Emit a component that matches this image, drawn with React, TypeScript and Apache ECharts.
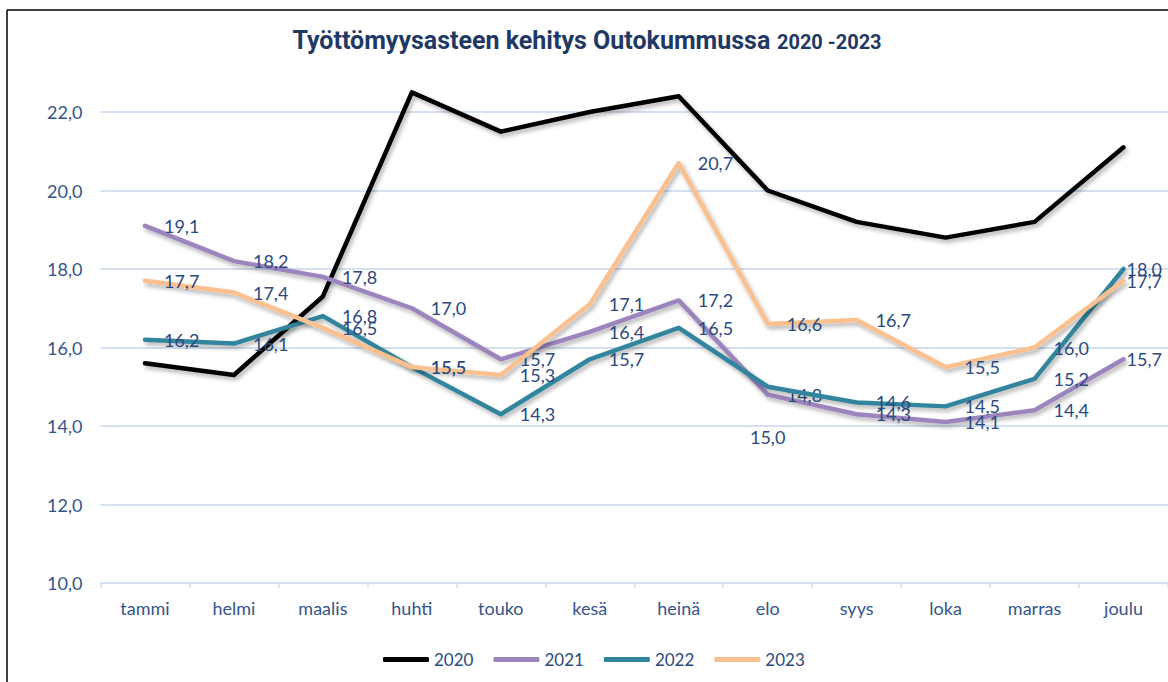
import React, { useEffect, useRef } from "react";
import * as echarts from "echarts";

const months = ["tammi", "helmi", "maalis", "huhti", "touko", "kesä", "heinä", "elo", "syys", "loka", "marras", "joulu"];
const years = ["2020", "2021", "2022", "2023"];
const v2020 = [15.6, 15.3, 17.3, 22.5, 21.5, 22.0, 22.4, 20.0, 19.2, 18.8, 19.2, 21.1];
const v2021 = [19.1, 18.2, 17.8, 17.0, 15.7, 16.4, 17.2, 14.8, 14.3, 14.1, 14.4, 15.7];
const v2022 = [16.2, 16.1, 16.8, 15.5, 14.3, 15.7, 16.5, 15.0, 14.6, 14.5, 15.2, 18.0];
const v2023 = [17.7, 17.4, 16.5, 15.5, 15.3, 17.1, 20.7, 16.6, 16.7, 15.5, 16.0, 17.7];
const colors = ["#000000", "#9c85bd", "#31859c", "#fac090"];
const titleMain = "Työttömyysasteen kehitys Outokummussa";
const titleYears = "2020 -2023";

const fmt = (v: number) => v.toFixed(1).replace(".", ",");
const FONT = "Lato, 'Open Sans', sans-serif";
const LABEL_COLOR = "#2b4a80";
const AXIS_COLOR = "#34558b";
const GRID_COLOR = "#d5e0f0";

export default function App() {
  const ref = useRef<HTMLDivElement>(null);
  useEffect(() => {
    if (!ref.current) return;
    const chart = echarts.init(ref.current, null, { renderer: "svg" });
    const series = [v2020, v2021, v2022, v2023].map((vals, i) => {
      const data: any[] = vals.map((v, j) => {
        // 2022 / elo label sits below the point in the reference
        if (i === 2 && j === 7) {
          return { value: v, label: { position: "bottom", distance: 40 } };
        }
        // last month's labels are pulled in against the right edge
        if (j === 11) {
          return { value: v, label: { distance: 2 } };
        }
        return v;
      });
      return {
        name: years[i],
        type: "line",
        data,
        symbol: "circle",
        symbolSize: 2,
        showSymbol: true,
        itemStyle: { color: colors[i] },
        lineStyle: {
          color: colors[i],
          width: 4.5,
          cap: "round",
          join: "round",
          shadowColor: "rgba(0,0,0,0.3)",
          shadowBlur: 4,
          shadowOffsetX: 2,
          shadowOffsetY: 3,
        },
        label: {
          show: i > 0,
          position: "right",
          distance: 18,
          formatter: (p: any) => fmt(Number(p.value)),
          color: LABEL_COLOR,
          fontSize: 18,
          fontFamily: FONT,
        },
        emphasis: { disabled: true },
        z: 2 + i,
      };
    });
    chart.setOption({
      animation: false,
      backgroundColor: "#ffffff",
      graphic: [
        {
          type: "text",
          x: 587,
          y: 40,
          style: {
            text: `{a|${titleMain}}  {b|${titleYears}}`,
            align: "center",
            verticalAlign: "middle",
            rich: {
              a: { fontSize: 25, fontWeight: "bold", fontFamily: "Roboto, sans-serif", fill: "#1f3864", color: "#1f3864" },
              b: { fontSize: 20, fontWeight: "bold", fontFamily: "Roboto, sans-serif", fill: "#1f3864", color: "#1f3864", padding: [4, 0, 0, 0] },
            },
          },
        },
        { type: "line", shape: { x1: 7, y1: 10, x2: 7, y2: 682 }, style: { stroke: "#000", lineWidth: 1.5 } },
        { type: "line", shape: { x1: 7, y1: 10, x2: 1168, y2: 10 }, style: { stroke: "#000", lineWidth: 1.5 } },
      ],
      grid: { left: 100.5, right: -1.6, top: 72.75, bottom: 99 },
      legend: {
        data: years,
        left: 378,
        top: 646,
        icon: "roundRect",
        itemWidth: 46,
        itemHeight: 5,
        itemGap: 20,
        textStyle: { color: LABEL_COLOR, fontSize: 17, fontFamily: FONT },
      },
      xAxis: {
        type: "category",
        data: months,
        boundaryGap: true,
        axisLine: { lineStyle: { color: GRID_COLOR, width: 2 } },
        axisTick: { show: true, length: 5, lineStyle: { color: GRID_COLOR, width: 1.5 } },
        axisLabel: { color: AXIS_COLOR, fontSize: 18, fontFamily: FONT, margin: 16 },
        splitLine: { show: false },
      },
      yAxis: {
        type: "value",
        min: 10,
        max: 23,
        interval: 2,
        axisLine: { show: false },
        axisTick: { show: false },
        axisLabel: {
          color: AXIS_COLOR,
          fontSize: 18,
          fontFamily: FONT,
          margin: 18,
          showMaxLabel: false,
          formatter: (v: number) => (v > 22 ? "" : fmt(v)),
        },
        splitLine: { show: true, showMaxLine: false, lineStyle: { color: GRID_COLOR, width: 2 } },
      },
      series,
    });
    return () => chart.dispose();
  }, []);
  return (
    <div
      ref={ref}
      style={{ position: "fixed", left: 0, top: 0, width: 1168, height: 682, background: "#fff" }}
    />
  );
}
